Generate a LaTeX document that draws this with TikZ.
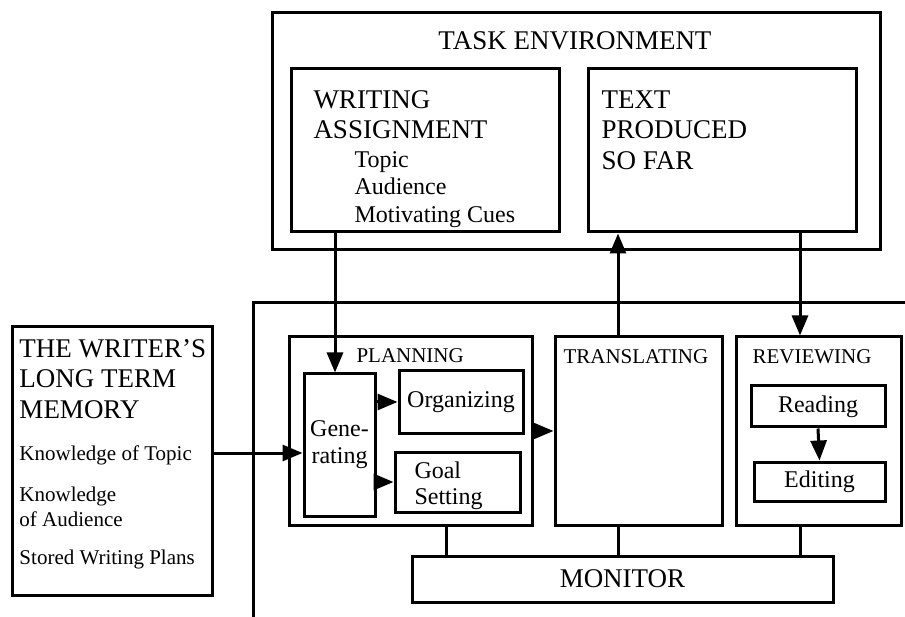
\documentclass[tikz,border=0pt]{standalone}
\usepackage{fontspec}
\setmainfont{Liberation Serif}
\usetikzlibrary{arrows.meta}
\begin{document}
\begin{tikzpicture}[x=1pt,y=-1pt,line width=3pt,
  box/.style={draw,rectangle},
  lbl/.style={anchor=north west,align=left},
  arr/.style={-{Triangle[length=20pt,width=16pt]}},
  big/.style={font=\fontsize{27}{30.5}\selectfont},
  mid/.style={font=\fontsize{24}{27}\selectfont},
  sml/.style={font=\fontsize{21}{25}\selectfont}]
\tikzstyle{every node}+=[inner sep=0pt]
\path[use as bounding box,clip] (0,0) rectangle (905,617);
\node[box,minimum width=608,minimum height=237] (te) at (576,131.5) {};
\node[big,anchor=base] (te-title) at (575,50) {TASK ENVIRONMENT};
\node[box,minimum width=268,minimum height=163] (wa) at (425,150.5) {};
\node[lbl,big] (wa-title) at (312,89) {WRITING\\ASSIGNMENT};
\node[lbl,mid,font=\fontsize{24}{27.5}\selectfont] (wa-items) at (353,150) {Topic\\Audience\\Motivating Cues};
\node[box,minimum width=268,minimum height=163] (tp) at (722,150.5) {};
\node[lbl,big] (tp-title) at (600,89) {TEXT\\PRODUCED\\SO FAR};
\node[box,minimum width=672,minimum height=337] (proc) at (589,471.5) {};
\node[box,minimum width=200,minimum height=268] (ltm) at (112,461) {};
\node[lbl,big] (ltm-title) at (18,338) {THE WRITER'S\\LONG TERM\\MEMORY};
\node[lbl,sml] (ltm-topic) at (18,444) {Knowledge of Topic};
\node[lbl,sml] (ltm-aud) at (18,485) {Knowledge\\of Audience};
\node[lbl,sml] (ltm-plans) at (18,548) {Stored Writing Plans};
\node[box,minimum width=243,minimum height=188] (plan) at (410.5,431) {};
\node[lbl,sml] (plan-title) at (355,347) {PLANNING};
\node[box,mid,align=center,minimum width=71,minimum height=142] (gen) at (339.5,445) {Gene-\\rating};
\node[box,mid,minimum width=124,minimum height=62] (org) at (461,402) {Organizing};
\node[box,minimum width=125,minimum height=60] (goal) at (457.5,482) {};
\node[lbl,mid,font=\fontsize{24}{26}\selectfont] (goal-txt) at (413,460) {Goal\\Setting};
\node[box,minimum width=167,minimum height=188] (trans) at (638.5,431) {};
\node[lbl,sml] (trans-title) at (562,348) {TRANSLATING};
\node[box,minimum width=165,minimum height=188] (rev) at (818.5,431) {};
\node[lbl,sml] (rev-title) at (751,348) {REVIEWING};
\node[box,mid,minimum width=134,minimum height=41] (read) at (818,406.5) {Reading};
\node[box,mid,minimum width=131,minimum height=39] (edit) at (819.5,481.5) {Editing};
\node[box,big,minimum width=421,minimum height=46] (mon) at (622.5,579) {MONITOR};
\coordinate (xwa) at (335,0);
\coordinate (xtr) at (618,0);
\coordinate (xrv) at (800,0);
\coordinate (xpl) at (446,0);
\coordinate (yltm) at (0,453);
\draw[arr] (wa.south -| xwa) -- (gen.north -| xwa);
\draw[arr] (trans.north -| xtr) -- (tp.south -| xtr);
\draw[arr] (tp.south -| xrv) -- (rev.north -| xrv);
\draw[arr] (ltm.east |- yltm) -- (gen.west |- yltm);
\draw[arr] (gen.east |- org.west) -- (org.west);
\draw[arr] (gen.east |- goal.west) -- (goal.west);
\draw[arr] (plan.east) -- (trans.west);
\draw[arr] (read.south) -- (edit.north);
\draw (plan.south -| xpl) -- (mon.north -| xpl);
\draw (trans.south -| xtr) -- (mon.north -| xtr);
\draw (rev.south -| xrv) -- (mon.north -| xrv);
\end{tikzpicture}
\end{document}
